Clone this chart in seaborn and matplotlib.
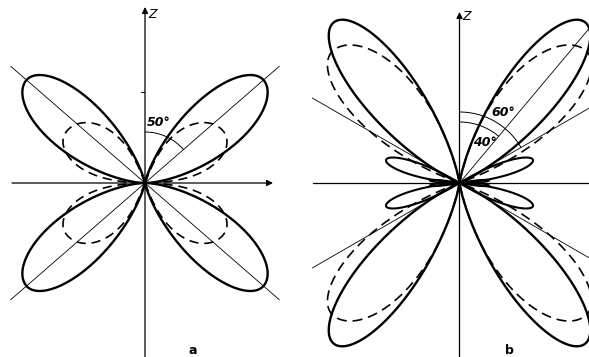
import numpy as np
import matplotlib
matplotlib.use("Agg")
import matplotlib.pyplot as plt
import seaborn as sns

# lobe tables: direction from z (deg), length, half-width toward z, half-width away from z, sharpness
a_solid = dict(phi=49, L=157, w_in=39, w_out=44, p=2.2)
a_dash = dict(phi=58, L=94, w_in=37, w_out=30, p=0.6)
b_solid = dict(phi=38, L=204, w_in=31, w_out=31, p=2.1)
b_dash = dict(phi=44, L=183, w_in=32, w_out=26, p=1.0)
b_side = dict(phi=72.5, L=77, w_in=14, w_out=14, p=1.0)
b_tiny = dict(phi=85, L=30, w_in=7, w_out=7, p=1.0)

# straight guide lines: angle from z, length
a_lines = [49]
b_lines = [60]
b_half_line = 40

# angle marks: radius, angle, label
a_arcs = [(51, 49, "50°")]
b_arcs = [(71, 60, "60°"), (61, 40, "40°")]

quadrants = [(1, 1), (-1, 1), (-1, -1), (1, -1)]


def lobe(phi, L, w_in, w_out, p, n=300):
    psi = np.concatenate([np.linspace(-w_in, 0, n), np.linspace(0, w_out, n)[1:]])
    t = np.where(psi < 0, psi / w_in, psi / w_out)
    r = L * np.clip(np.cos(np.pi * t / 2), 0, None) ** p
    th = np.radians(phi + psi)
    return r * np.sin(th), r * np.cos(th)


def draw_lobes(ax, spec, **kw):
    x, y = lobe(**spec)
    for sx, sy in quadrants:
        sns.lineplot(x=sx * x, y=sy * y, sort=False, estimator=None, ax=ax,
                     color="black", **kw)


def draw_line(ax, ang, L1, L2, lw=0.6):
    a = np.radians(ang)
    sns.lineplot(x=[-L2 * np.sin(a), L1 * np.sin(a)], y=[-L2 * np.cos(a), L1 * np.cos(a)],
                 sort=False, estimator=None, ax=ax, color="black", lw=lw)


sns.set_style("white")
plt.rcParams["font.family"] = ["Liberation Sans Narrow", "DejaVu Sans"]
plt.rcParams["text.color"] = "black"
fig = plt.figure(figsize=(5.89, 3.57), dpi=100)

ax_a = fig.add_axes([0, 0, 295 / 589, 1])
ax_a.set_xlim(-145, 150)
ax_a.set_ylim(-174, 183)
ax_b = fig.add_axes([295 / 589, 0, 294 / 589, 1])
ax_b.set_xlim(-164.5, 129.5)
ax_b.set_ylim(-174, 183)

arrow = dict(arrowstyle="-|>", lw=0.9, color="black", mutation_scale=9, shrinkA=0, shrinkB=0)
lab_kw = dict(fontsize=9, style="italic", weight="bold", ha="center", va="center", color="black")
z_kw = dict(fontsize=9, style="italic", ha="center", va="center", color="black")
panel_kw = dict(fontsize=9, weight="bold", ha="center", va="center", color="black")

# panel a
ax_a.annotate("", xy=(0, 176), xytext=(0, -180), arrowprops=arrow)
ax_a.annotate("", xy=(128, 0), xytext=(-133, 0), arrowprops=arrow)
sns.lineplot(x=[-4, -1], y=[91, 91], ax=ax_a, color="black", lw=0.8)
for ang in a_lines:
    draw_line(ax_a, ang, 178, 178)
    draw_line(ax_a, -ang, 178, 178)
draw_lobes(ax_a, a_solid, lw=1.7)
draw_lobes(ax_a, a_dash, lw=1.2, linestyle=(0, (5.5, 3.5)))
for r, ang, lab in a_arcs:
    t = np.radians(np.linspace(0, ang, 60))
    sns.lineplot(x=r * np.sin(t), y=r * np.cos(t), sort=False, estimator=None,
                 ax=ax_a, color="black", lw=0.7)
ax_a.text(14, 61, lab, **lab_kw)
ax_a.text(8, 168, "Z", **z_kw)
ax_a.text(48, -167, "a", **panel_kw)

# panel b
ax_b.annotate("", xy=(0, 171), xytext=(0, -180), arrowprops=arrow)
sns.lineplot(x=[-147, 135], y=[0, 0], ax=ax_b, color="black", lw=0.9)
for ang in b_lines:
    draw_line(ax_b, ang, 170, 170)
    draw_line(ax_b, -ang, 170, 170)
draw_line(ax_b, b_half_line, 205, 0)
draw_lobes(ax_b, b_solid, lw=1.7)
draw_lobes(ax_b, b_dash, lw=1.2, linestyle=(0, (6, 3.5)))
draw_lobes(ax_b, b_side, lw=1.5)
draw_lobes(ax_b, b_tiny, lw=1.2)
for r, ang, lab in b_arcs:
    t = np.radians(np.linspace(0, ang, 60))
    sns.lineplot(x=r * np.sin(t), y=r * np.cos(t), sort=False, estimator=None,
                 ax=ax_b, color="black", lw=0.7)
ax_b.text(44, 71, b_arcs[0][2], **lab_kw)
ax_b.text(25, 41, b_arcs[1][2], **lab_kw)
ax_b.text(7, 166, "Z", **z_kw)
ax_b.text(50, -167, "b", **panel_kw)

for ax in (ax_a, ax_b):
    ax.set_axis_off()
    if ax.get_legend():
        ax.get_legend().remove()

fig.savefig("out.png", dpi=100)
